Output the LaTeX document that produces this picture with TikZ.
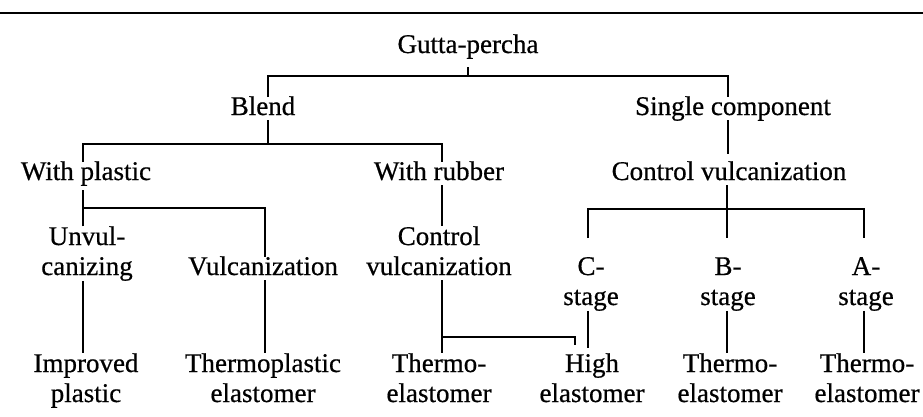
\documentclass[tikz,border=0pt]{standalone}
\usepackage{fontspec}
\setmainfont{Liberation Serif}[FakeBold=0.6]
% two centred lines, baseline of the box = baseline of the first line
\newcommand\pairtext[2]{\vtop{\baselineskip=30pt\lineskiplimit=-50pt\lineskip=0pt
  \halign{\hfil##\hfil\cr\rule{0pt}{18pt}#1\cr\rule[-5pt]{0pt}{5pt}#2\cr}}}
\begin{document}
\begin{tikzpicture}[x=1pt,y=-1pt,
  lbl/.style={anchor=base,inner sep=0pt,outer sep=0pt,text height=18pt,text depth=5pt,
    font=\fontsize{27}{30}\selectfont},
  lbl2/.style={anchor=base,inner sep=0pt,outer sep=0pt,font=\fontsize{27}{30}\selectfont},
  link/.style={line width=2.4pt,line join=miter,line cap=butt},
  hrule/.style={line width=2.2pt}]
\useasboundingbox (0,0) rectangle (923,416);

% table rule
\draw[hrule] (0,13) -- (923,13);

% heights of the horizontal bus lines
\coordinate (bus1) at (0,76);
\coordinate (bus2) at (0,144);
\coordinate (bus3) at (0,208);
\coordinate (bus4) at (0,209);
\coordinate (bus5) at (0,337);

% labels
\node[lbl] (gp) at (468,53) {Gutta-percha};
\node[lbl] (blend) at (263,115) {Blend};
\node[lbl] (single) at (733,115) {Single component};
\node[lbl] (wplastic) at (86,180) {With plastic};
\node[lbl] (wrubber) at (439,180) {With rubber};
\node[lbl] (cv) at (729,180) {Control vulcanization};
\node[lbl2] (unvul) at (87,245) {\pairtext{Unvul-}{canizing}};
\node[lbl] (vulc) at (263,275) {Vulcanization};
\node[lbl2] (cv2) at (439,245) {\pairtext{Control}{vulcanization}};
\node[lbl2] (cst) at (591,275) {\pairtext{C-}{stage}};
\node[lbl2] (bst) at (728,275) {\pairtext{B-}{stage}};
\node[lbl2] (ast) at (866,275) {\pairtext{A-}{stage}};
\node[lbl2] (impr) at (86,372) {\pairtext{Improved}{plastic}};
\node[lbl2] (tpe) at (263,372) {\pairtext{Thermoplastic}{elastomer}};
\node[lbl2] (te1) at (439,372) {\pairtext{Thermo-}{elastomer}};
\node[lbl2] (high) at (592,372) {\pairtext{High}{elastomer}};
\node[lbl2] (te2) at (730,372) {\pairtext{Thermo-}{elastomer}};
\node[lbl2] (te3) at (867,372) {\pairtext{Thermo-}{elastomer}};

% Gutta-percha -> Blend, Single component
\draw[link] ([yshift=-9pt]gp.south) -- (gp.south |- bus1);
\draw[link] ([xshift=5pt]blend.north) |- ([xshift=-5pt]single.north |- bus1) -- ([xshift=-5pt]single.north);

% Blend -> With plastic, With rubber
\draw[link] ([xshift=5pt]blend.south) -- ([xshift=5pt]blend.south |- bus2);
\draw[link] ([xshift=-3pt]wplastic.north) |- ([xshift=3pt]wrubber.north |- bus2) -- ([xshift=3pt]wrubber.north);

% Single component -> Control vulcanization
\draw[link,shorten >=8pt] ([xshift=-5pt]single.south) -- ([xshift=-5pt]single.south |- cv.north);

% With plastic -> Unvulcanizing, Vulcanization
\draw[link,shorten <=5pt] ([xshift=-3pt]wplastic.south) -- ([xshift=-3pt]wplastic.south |- bus3);
\draw[link] ([xshift=-4pt]unvul.north) |- ([xshift=2pt]vulc.north |- bus3) -- ([xshift=2pt]vulc.north);

% With rubber -> Control vulcanization
\draw[link] ([xshift=3pt]wrubber.south) -- ([xshift=3pt]cv2.north);

% Control vulcanization -> C-, B-, A-stage
\draw[link,shorten >=19pt] ([xshift=-2pt]cv.south) -- ([xshift=-2pt]cv.south |- bst.north);
\draw[link,shorten <=19pt,shorten >=19pt] ([xshift=-3pt]cst.north) |- ([xshift=-2pt]ast.north |- bus4) -- ([xshift=-2pt]ast.north);

% second level to the products
\draw[link] ([xshift=-4pt]unvul.south) -- ([xshift=-4pt]unvul.south |- impr.north);
\draw[link] ([xshift=2pt]vulc.south) -- ([xshift=2pt]vulc.south |- tpe.north);
\draw[link] ([xshift=3pt]cv2.south) -- ([xshift=3pt]cv2.south |- te1.north);
\draw[link,shorten >=8pt] ([xshift=3pt]cv2.south |- bus5) -| ([xshift=-17pt]high.north);
\draw[link,shorten >=5pt] ([xshift=-3pt]cst.south) -- ([xshift=-3pt]cst.south |- high.north);
\draw[link] ([xshift=-1pt]bst.south) -- ([xshift=-1pt]bst.south |- te2.north);
\draw[link] ([xshift=-2pt]ast.south) -- ([xshift=-2pt]ast.south |- te3.north);
\end{tikzpicture}
\end{document}
